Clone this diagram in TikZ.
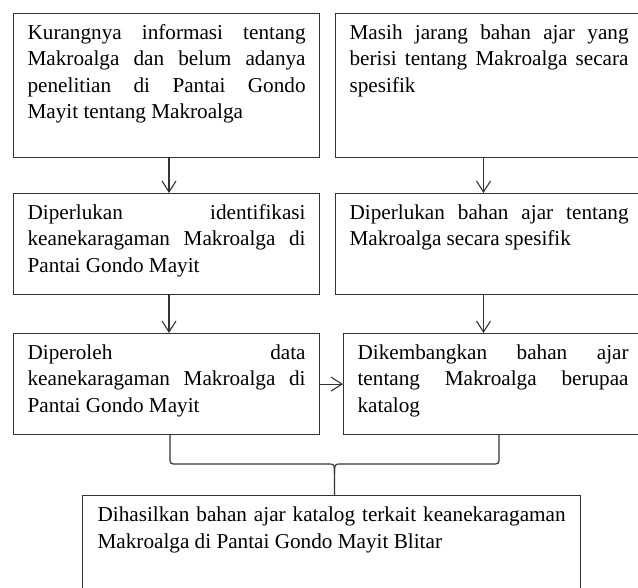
\documentclass[tikz,border=0pt]{standalone}
\usepackage{fontspec}
\setmainfont{Liberation Serif}
\usetikzlibrary{arrows.meta}
\newcommand\boxtextfont{\fontsize{21.2pt}{26.4pt}\selectfont\tolerance=10000\hbadness=10000\hyphenpenalty=10000\exhyphenpenalty=10000}
\tikzset{
  blk/.style={draw=black!80, line width=1.2pt, fill=white, anchor=north west,
    align=justify, inner xsep=14pt, inner ysep=0pt, text height=26pt,
    font=\boxtextfont},
  arr/.style={draw=black!80, line width=1.1pt,
    -{Straight Barb[length=11pt,width=14pt,line width=1.1pt]}},
  brc/.style={draw=black!80, line width=1.2pt},
}
\begin{document}
\begin{tikzpicture}[x=1pt,y=-1pt]
\useasboundingbox (0,0) rectangle (638,588);
\clip (0,0) rectangle (638,588);

\node[blk, text width=278pt, text depth=118pt] (b1) at (13,13)
  {Kurangnya informasi tentang\linebreak Makroalga dan belum adanya\linebreak penelitian di Pantai Gondo\linebreak Mayit tentang Makroalga};
\node[blk, text width=279pt, text depth=118pt] (b2) at (335,13)
  {Masih jarang bahan ajar yang\linebreak berisi tentang Makroalga secara\linebreak spesifik};
\node[blk, text width=278pt, text depth=75pt] (b3) at (13,193)
  {Diperlukan identifikasi\linebreak keanekaragaman Makroalga di\linebreak Pantai Gondo Mayit};
\node[blk, text width=279pt, text depth=75pt] (b4) at (335,193)
  {Diperlukan bahan ajar tentang\linebreak Makroalga secara spesifik};
\node[blk, text width=278pt, text depth=75pt] (b5) at (13,333)
  {Diperoleh data\linebreak keanekaragaman Makroalga di\linebreak Pantai Gondo Mayit};
\node[blk, text width=271pt, text depth=75pt] (b6) at (343,333)
  {Dikembangkan bahan ajar\linebreak tentang Makroalga berupaa\linebreak katalog};
\node[blk, text width=468pt, inner xsep=15pt, text depth=74pt] (b7) at (82,495)
  {Dihasilkan bahan ajar katalog terkait keanekaragaman\linebreak Makroalga di Pantai Gondo Mayit Blitar};

\coordinate (xl) at (169,0);
\coordinate (xr) at (483.5,0);
\draw[arr] (b1.south -| xl) -- (b3.north -| xl);
\draw[arr] (b3.south -| xl) -- (b5.north -| xl);
\draw[arr] (b2.south -| xr) -- (b4.north -| xr);
\draw[arr] (b4.south -| xr) -- (b6.north -| xr);
\draw[arr] (b5.east) -- (b6.west);

\coordinate (bl) at (170,0);
\coordinate (br) at (499,0);
\coordinate (bc) at (334.5,0);
\draw[brc] (b5.south -| bl) -- (170,457) .. controls (170,464) .. (177,464)
  -- (328,464) .. controls (334.5,464) .. (334.5,474) -- (b7.north -| bc);
\draw[brc] (b6.south -| br) -- (499,457) .. controls (499,464) .. (492,464)
  -- (341,464) .. controls (334.5,464) .. (334.5,474);
\end{tikzpicture}
\end{document}
